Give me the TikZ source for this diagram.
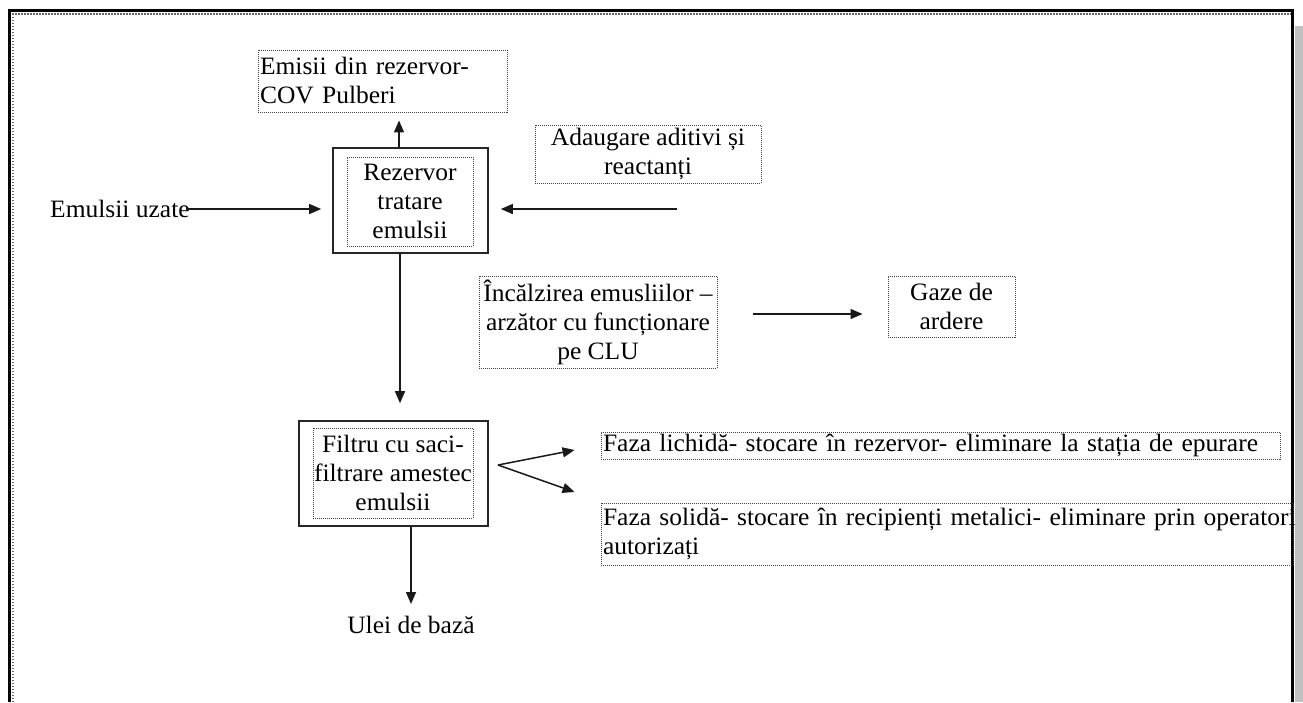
\documentclass[tikz,border=0pt]{standalone}
\usepackage{fontspec}
\setmainfont{Liberation Serif}[FakeStretch=1.02]
\usetikzlibrary{arrows.meta,calc}
\definecolor{shadowgray}{RGB}{192,192,192}
\begin{document}
\begin{tikzpicture}[x=1pt,y=-1pt,
  every node/.style={font=\fontsize{25}{29}\selectfont, inner sep=0pt, text=black},
  dotbox/.style={draw=black!75, line width=0.9pt, dash pattern=on 1pt off 1pt},
  solidbox/.style={draw=black!85, line width=1.6pt},
  arr/.style={-{Triangle[length=12pt,width=10pt]}, line width=1.5pt, draw=black!90},
]
\useasboundingbox (0,0) rectangle (1303,702);
% page frame
\fill[shadowgray] (1295,26) rectangle (1303,702);
\draw[black!60, line width=1.5pt, dash pattern=on 1.5pt off 1.5pt] (13,702) -- (13,14) -- (1291,14);
\draw[black, line width=3pt] (9,702) -- (9,10) -- (1292.5,10) -- (1292.5,702);

% nodes
\node[dotbox, minimum width=249pt, minimum height=62pt, text width=245pt, align=left] (emisii) at (382.5,81) {\mbox{Emisii din rezervor-}\\\mbox{COV Pulberi}};
\node[solidbox, minimum width=155pt, minimum height=105pt] (rezout) at (410.5,200.5) {};
\node[dotbox, minimum width=126pt, minimum height=89pt, align=center] (rez) at (410,201.5) {Rezervor\\tratare\\emulsii};
\node[dotbox, minimum width=226pt, minimum height=58pt, align=center] (adaug) at (648,154) {Adaugare aditivi și\\reactanți};
\node[anchor=west] (emu) at (50,209) {Emulsii uzate};
\node[dotbox, minimum width=238pt, minimum height=92pt, align=center] (inc) at (598,322) {Încălzirea emusliilor –\\arzător cu funcționare\\pe CLU};
\node[dotbox, minimum width=127pt, minimum height=61pt, align=center] (gaze) at (951.5,306.5) {Gaze de\\ardere};
\node[solidbox, minimum width=189pt, minimum height=105pt] (filtout) at (393.5,473.5) {};
\node[dotbox, minimum width=160pt, minimum height=90pt, align=center] (filt) at (393,473) {Filtru cu saci-\\filtrare amestec\\emulsii};
\node (ulei) at (411,625) {Ulei de bază};
\node[dotbox, minimum width=679pt, minimum height=27pt, text width=675pt, align=left] (lich) at (940.5,445.5) {\mbox{Faza lichidă- stocare în rezervor- eliminare la stația de epurare}};
\node[dotbox, minimum width=692pt, minimum height=62pt, text width=688pt, align=left] (solid) at (947,534) {\mbox{Faza solidă- stocare în recipienți metalici- eliminare prin operatori}\\\mbox{autorizați}};

% connectors
\draw[arr, shorten >=8pt] ([xshift=-11.5pt]rezout.north) -- ([xshift=-11.5pt]rezout.north |- emisii.south);
\draw[arr, shorten >=11pt] ([xshift=-4pt]emu.east) -- (emu.east -| rezout.west);
\coordinate (adstart) at (677,209);
\draw[arr, shorten >=12pt] (adstart) -- (adstart -| rezout.east);
\draw[arr, shorten >=17pt] ([xshift=-10.5pt]rezout.south) -- ([xshift=-10.5pt]rezout.south |- filtout.north);
\draw[arr, shorten >=12pt] ([xshift=17.5pt]filtout.south) -- ([xshift=17.5pt]filtout.south |- ulei.north);
\coordinate (fork) at (498,465);
\draw[arr] (fork) -- ($(lich.west)+(-26,4.5)$);
\draw[arr] (fork) -- ($(solid.west)+(-26,-42)$);
\coordinate (hstart) at (753,314);
\draw[arr, shorten >=25pt] (hstart) -- (hstart -| gaze.west);
\end{tikzpicture}
\end{document}
